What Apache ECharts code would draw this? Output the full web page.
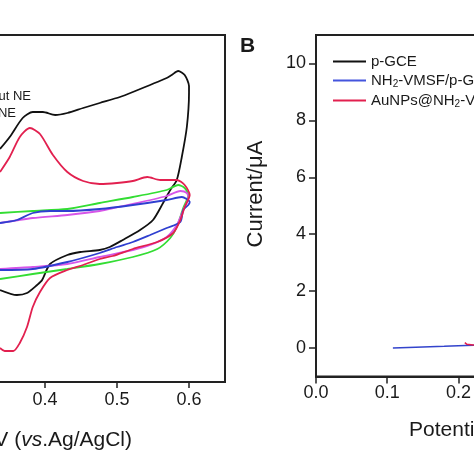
<!DOCTYPE html>
<html>
<head>
<meta charset="utf-8">
<script src="https://cdn.jsdelivr.net/npm/echarts@6/dist/echarts.min.js"></script>
<style>
html,body{margin:0;padding:0;background:#fff;}
#chart{width:474px;height:474px;}
</style>
</head>
<body>
<div id="chart"></div>
<script>
// ---- Panel A (cyclic voltammograms, arbitrary current units) ----
const cvBlack = [[0.3375,8.1],[0.351,9.3],[0.369,11.2],[0.383,11.8],[0.397,11.8],[0.414,11.5],[0.431,11.7],[0.453,12.2],[0.476,12.7],[0.504,13.3],[0.522,13.8],[0.569,15.2],[0.576,15.5],[0.585,15.9],[0.594,15.5],[0.6,14.4],[0.6,13.7],[0.597,10.3],[0.59,7.3],[0.583,5.0],[0.574,4.0],[0.564,2.7],[0.55,1.0],[0.532,0.0],[0.508,-1.0],[0.49,-1.7],[0.476,-2.0],[0.449,-2.2],[0.431,-2.5],[0.407,-3.4],[0.396,-5.0],[0.389,-5.5],[0.375,-6.3],[0.361,-6.5],[0.3375,-6.0]];
const cvRed = [[0.3375,5.8],[0.351,7.3],[0.365,9.3],[0.379,10.2],[0.393,9.6],[0.411,7.5],[0.431,5.8],[0.453,4.9],[0.476,4.6],[0.5,4.7],[0.522,4.9],[0.542,5.3],[0.56,5.0],[0.583,5.0],[0.594,4.5],[0.601,3.5],[0.594,2.3],[0.588,1.0],[0.578,-0.3],[0.556,-1.2],[0.522,-1.9],[0.494,-2.6],[0.476,-2.9],[0.453,-3.5],[0.431,-4.0],[0.407,-4.8],[0.393,-6.2],[0.383,-7.7],[0.375,-9.7],[0.365,-11.3],[0.356,-12.1],[0.344,-12.1],[0.3375,-11.8]];
const cvGreen = [[0.3375,1.7],[0.383,1.9],[0.431,2.1],[0.476,2.7],[0.522,3.3],[0.569,4.0],[0.585,4.5],[0.594,4.2],[0.599,3.5],[0.592,2.2],[0.583,0.3],[0.574,-0.8],[0.556,-1.9],[0.522,-2.7],[0.476,-3.4],[0.431,-3.9],[0.383,-4.4],[0.3375,-4.9]];
const cvBlue = [[0.3375,0.7],[0.361,1.0],[0.383,1.7],[0.407,1.9],[0.431,1.9],[0.476,2.1],[0.522,2.5],[0.569,3.0],[0.59,3.3],[0.601,2.8],[0.599,2.5],[0.592,2.0],[0.588,0.8],[0.569,0.2],[0.546,-0.5],[0.522,-1.2],[0.5,-1.7],[0.476,-2.3],[0.431,-3.2],[0.383,-3.9],[0.3375,-4.0]];
const cvMagenta = [[0.3375,0.7],[0.383,1.2],[0.431,1.5],[0.476,1.9],[0.522,2.6],[0.569,3.4],[0.588,3.9],[0.597,3.7],[0.599,3.2],[0.592,2.0],[0.583,0.5],[0.569,-0.7],[0.546,-1.5],[0.522,-2.0],[0.476,-2.7],[0.431,-3.4],[0.383,-3.7],[0.3375,-3.9]];
const panelALegend = ['without NE', 'with NE'];

// ---- Panel B (DPV) ----
const dpvNames = ['p-GCE', 'NH2-VMSF/p-GCE', 'AuNPs@NH2-VMSF/p-GCE'];
const dpvBlack = []; // not visible in this crop
const dpvBlue = [[0.108,0.0],[0.14,0.03],[0.18,0.06],[0.21,0.09],[0.2215,0.1],[0.23,0.1]];
const dpvRed = [[0.209,0.19],[0.212,0.13],[0.2205,0.105],[0.23,0.1]];
const xTicksA = [0.3, 0.4, 0.5, 0.6];
const xTicksB = [0, 0.1, 0.2, 0.3, 0.4, 0.5, 0.6, 0.7];
const yTicksB = [0, 2, 4, 6, 8, 10];

const FONT = 'Liberation Sans, Arial, Helvetica, sans-serif';
const axisCol = '#222';

const chart = echarts.init(document.getElementById('chart'), null, {renderer: 'canvas'});

function legendFmt(name) {
  return name.split('NH2').map(s => s ? '{n|' + s + '}' : '').join('{n|NH}{s|2}');
}

const option = {
  backgroundColor: '#fff',
  animation: false,
  textStyle: {fontFamily: FONT},
  grid: [
    {left: -27, top: 35, width: 252, height: 347, show: true, borderColor: axisCol, borderWidth: 2, backgroundColor: 'transparent', containLabel: false, outerBoundsMode: 'none'},
    {left: 316, top: 35, width: 498.4, height: 341.5, show: true, borderColor: axisCol, borderWidth: 2, backgroundColor: 'transparent', containLabel: false, outerBoundsMode: 'none'}
  ],
  xAxis: [
    {gridIndex: 0, type: 'value', min: 0.3, max: 0.65,
     axisLine: {show: true, onZero: false, lineStyle: {color: axisCol, width: 2}},
     axisTick: {show: true, inside: false, length: 6, customValues: xTicksA, lineStyle: {color: axisCol, width: 1.5}},
     axisLabel: {show: true, margin: 9, fontSize: 18, color: '#1a1a1a', fontFamily: FONT, customValues: xTicksA,
       formatter: v => v.toFixed(1)},
     splitLine: {show: false}},
    {gridIndex: 1, type: 'value', min: 0, max: 0.7,
     axisLine: {show: true, onZero: false, lineStyle: {color: axisCol, width: 2}},
     axisTick: {show: true, inside: false, length: 7, customValues: xTicksB, lineStyle: {color: axisCol, width: 1.5}},
     axisLabel: {show: true, margin: 8, fontSize: 18, color: '#1a1a1a', fontFamily: FONT, customValues: xTicksB, formatter: v => v.toFixed(1)},
     splitLine: {show: false}}
  ],
  yAxis: [
    {gridIndex: 0, type: 'value', min: -15.2, max: 19.5, show: false, splitLine: {show: false}},
    {gridIndex: 1, type: 'value', min: -1, max: 11,
     axisLine: {show: true, onZero: false, lineStyle: {color: axisCol, width: 2}},
     axisTick: {show: true, inside: false, length: 7, customValues: yTicksB, lineStyle: {color: axisCol, width: 1.5}},
     axisLabel: {show: true, margin: 10, fontSize: 18, color: '#1a1a1a', fontFamily: FONT, customValues: yTicksB,
       formatter: v => String(v)},
     splitLine: {show: false}}
  ],
  legend: {
    data: dpvNames,
    orient: 'vertical', left: 333, top: 54, padding: 0,
    icon: 'rect', itemWidth: 33, itemHeight: 2, itemGap: 4,
    formatter: legendFmt,
    textStyle: {fontFamily: FONT, color: '#1a1a1a', fontSize: 15, lineHeight: 15,
      rich: {n: {fontSize: 15, fontFamily: FONT, color: '#1a1a1a'}, s: {fontSize: 10, fontFamily: FONT, color: '#1a1a1a', padding: [7, 0, 0, 0]}}}
  },
  series: [
    {name: 'without NE', type: 'line', xAxisIndex: 0, yAxisIndex: 0, data: cvBlack, showSymbol: false, smooth: 0.25, lineStyle: {color: '#111', width: 1.8}, itemStyle: {color: '#111'}},
    {name: 'green', type: 'line', xAxisIndex: 0, yAxisIndex: 0, data: cvGreen, showSymbol: false, smooth: 0.25, lineStyle: {color: '#33dd33', width: 1.8}, itemStyle: {color: '#33dd33'}},
    {name: 'magenta', type: 'line', xAxisIndex: 0, yAxisIndex: 0, data: cvMagenta, showSymbol: false, smooth: 0.25, lineStyle: {color: '#d655e8', width: 1.8}, itemStyle: {color: '#d655e8'}},
    {name: 'blue', type: 'line', xAxisIndex: 0, yAxisIndex: 0, data: cvBlue, showSymbol: false, smooth: 0.25, lineStyle: {color: '#2f3fd0', width: 1.8}, itemStyle: {color: '#2f3fd0'}},
    {name: 'with NE', type: 'line', xAxisIndex: 0, yAxisIndex: 0, data: cvRed, showSymbol: false, smooth: 0.25, lineStyle: {color: '#e2204f', width: 1.8}, itemStyle: {color: '#e2204f'}},
    {name: dpvNames[0], type: 'line', xAxisIndex: 1, yAxisIndex: 1, data: dpvBlack, showSymbol: false, lineStyle: {color: '#111', width: 1.5}, itemStyle: {color: '#111'}},
    {name: dpvNames[1], type: 'line', xAxisIndex: 1, yAxisIndex: 1, data: dpvBlue, showSymbol: false, lineStyle: {color: '#3344cc', width: 1.5}, itemStyle: {color: '#4455dd'}},
    {name: dpvNames[2], type: 'line', xAxisIndex: 1, yAxisIndex: 1, data: dpvRed, showSymbol: false, lineStyle: {color: '#e2204f', width: 1.5}, itemStyle: {color: '#e2204f'}}
  ],
  graphic: [
    {type: 'text', x: 31, y: 96, style: {text: panelALegend[0], font: '13px ' + FONT, fill: '#1a1a1a', align: 'right', verticalAlign: 'middle'}},
    {type: 'text', x: 16, y: 113, style: {text: panelALegend[1], font: '13px ' + FONT, fill: '#1a1a1a', align: 'right', verticalAlign: 'middle'}},
    {type: 'text', x: 132, y: 440, style: {text: '{a|Potential/V (}{i|vs}{a|.Ag/AgCl)}', align: 'right', verticalAlign: 'middle',
      rich: {a: {font: '21px ' + FONT, fill: '#1a1a1a'}, i: {font: 'italic 21px ' + FONT, fill: '#1a1a1a'}}}},
    {type: 'text', x: 409, y: 430, style: {text: '{a|Potential/V (}{i|vs}{a|.Ag/AgCl)}', align: 'left', verticalAlign: 'middle',
      rich: {a: {font: '21px ' + FONT, fill: '#1a1a1a'}, i: {font: 'italic 21px ' + FONT, fill: '#1a1a1a'}}}},
    {type: 'text', x: 256, y: 194, rotation: Math.PI / 2, style: {text: 'Current/μA', font: '22px ' + FONT, fill: '#1a1a1a', align: 'center', verticalAlign: 'middle'}},
    {type: 'text', x: 240, y: 46, style: {text: 'B', font: 'bold 21px ' + FONT, fill: '#1a1a1a', align: 'left', verticalAlign: 'middle'}}
  ]
};
chart.setOption(option);
</script>
</body>
</html>
